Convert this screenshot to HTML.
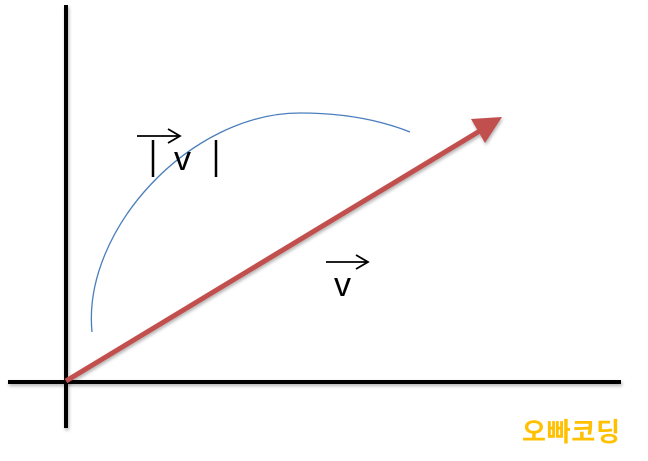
<!DOCTYPE html>
<html><head><meta charset="utf-8"><style>
html,body{margin:0;padding:0;background:#fff;width:648px;height:461px;overflow:hidden}
</style></head><body>
<svg width="648" height="461" viewBox="0 0 648 461">
<defs>
<filter id="sh" x="-10%" y="-10%" width="120%" height="130%"><feDropShadow dx="1" dy="2" stdDeviation="1.5" flood-color="#000" flood-opacity="0.3"/></filter>
</defs>
<g filter="url(#sh)">
<line x1="8" y1="382" x2="621" y2="382" stroke="#000" stroke-width="4"/>
<line x1="66" y1="5" x2="66" y2="428" stroke="#000" stroke-width="4"/>
</g>
<path d="M92,332 C82,230 190,113 300,113 C350,113 385,122 410,132" fill="none" stroke="#4a7ebb" stroke-width="1.3"/>
<g filter="url(#sh)">
<line x1="66" y1="381" x2="488" y2="126" stroke="#c0504d" stroke-width="5"/>
<polygon points="502,117 471,119 485,143" fill="#c0504d"/>
</g>
<g stroke="#000" stroke-width="2.5">
<line x1="153" y1="140" x2="153" y2="177"/>
<line x1="216" y1="140" x2="216" y2="177"/>
</g>
<g font-family="Liberation Sans, sans-serif" fill="#000">
<text x="174" y="170" font-size="34">v</text>
<text x="334" y="296" font-size="34">v</text>
</g>
<g stroke="#000" stroke-width="1.8" fill="none">
<path d="M137,136 H180 M168,129 L180,136 L168,143"/>
<path d="M326,262 H368 M356,255 L368,262 L356,269"/>
</g>
<text x="522" y="441" textLength="98" font-family="Liberation Sans, 'Noto Sans CJK KR', sans-serif" font-weight="bold" font-size="26" fill="#ffc000">오빠코딩</text>
</svg>
</body></html>
